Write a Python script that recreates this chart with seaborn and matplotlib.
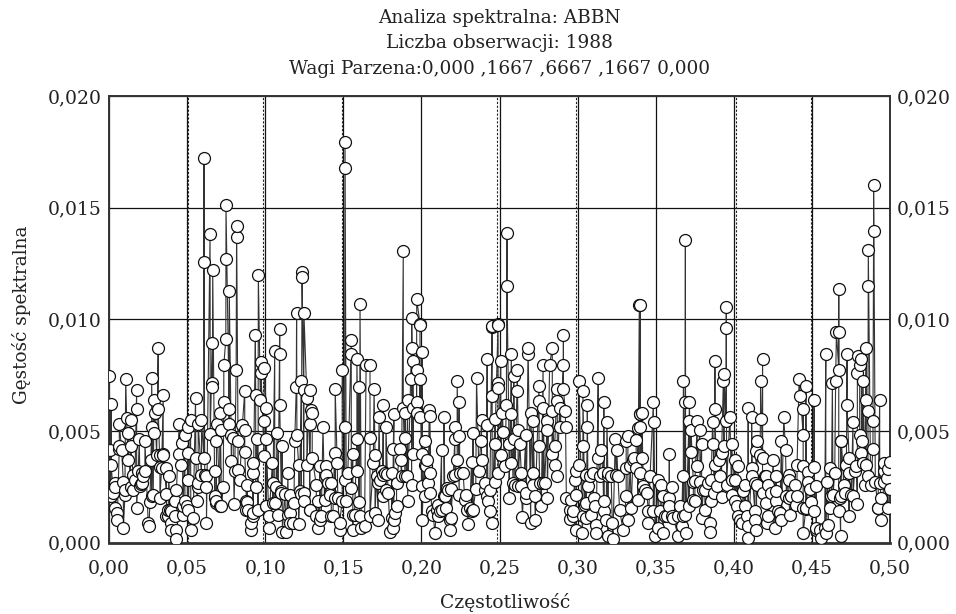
import numpy as np
import pandas as pd
import matplotlib
matplotlib.use('Agg')
import matplotlib.pyplot as plt
import seaborn as sns

# values, density in units of 0.001
freq_a = [
    .0002, .0013, .0006, .0013, .0011, .0038, .0038, .0049, .0053, .0066,
    .0066, .0092, .0092, .0102, .0107, .0113, .0121, .0121, .0138, .0138,
    .0138, .0155, .0177, .0177, .0177, .0194, .0202, .0209, .0230, .0230,
    .0251, .0256, .0273, .0273, .0268, .0273, .0262, .0288, .0290, .0294,
    .0315, .0315, .0326, .0326, .0347, .0347, .0368, .0368, .0368, .0383,
    .0390, .0396, .0400, .0428, .0428, .0422, .0432, .0449, .0449, .0464,
    .0469, .0486, .0475, .0486, .0507, .0507, .0507, .0507, .0522, .0524,
    .0539, .0554, .0556, .0564, .0571, .0571, .0592, .0607, .0613, .0624,
    .0624, .0648, .0662, .0662, .0662, .0677, .0677, .0688, .0688, .0692,
    .0709, .0714, .0720, .0731, .0735, .0735, .0748, .0769, .0769, .0784,
    .0784, .0794, .0805, .0814, .0826, .0826, .0837, .0801, .0854, .0869,
    .0869, .0869, .0884, .0884, .0880, .0907, .0907, .0922, .0922, .0922,
    .0937, .0939, .0948, .0939, .0954, .0969, .0973, .0973, .0993, .0993,
    .0993, .1007, .1007, .1007, .1025, .1025, .1046, .1050, .1061, .1061,
    .1076, .1071, .1093, .1093, .1093, .1082, .1103, .1108, .1110, .1135,
    .1125, .1146, .1146, .1157, .1157, .1184, .1189, .1203, .1199, .1214,
    .1214, .1231, .1231, .1246, .1246, .1267, .1267, .1284, .1284, .1295,
    .1289, .1301, .1301, .1327, .1338, .1338, .1348, .1348, .1370, .1391,
    .1391, .1402, .1423, .1423, .1412, .1444, .1448, .1448, .1461, .1476,
    .1476, .1493, .1493, .1508, .1508, .1529, .1551, .1551, .1551, .1561,
    .1561, .1561, .1587, .1587, .1587, .1600, .1600, .1615, .1636, .1646,
    .0608, .0608, .0647, .0664, .0749, .0749, .0770, .0817, .0817, .0956,
    .1201, .1248, .1236, .1236, .1511, .1511, .1607,
    .0038, .0028, .0066, .0081, .0102, .0155, .0166, .0187, .0209, .0219,
    .0198, .0283, .0305, .0326, .0347, .0337, .0379, .0379, .0400, .0422,
    .0475, .0501, .0571, .0592, .0620, .0677, .0688, .0709, .0880, .0890,
    .0922, .1007, .1050, .1103, .1157, .1178, .1220, .1246, .1284, .1327,
    .1359, .1380, .1412, .1433, .1465, .1519, .1572, .1604,
]
dens_a = [
    7.45, 6.2, 4.15, 3.5, 2.1, 2.5, 1.55, 1.33, 1.03, 4.2,
    5.3, 2.7, .65, 2.15, 7.35, 5.6, 4.9, 3.7, 5.5, 4.35,
    2.5, 3.05, 6.85, 6.0, 1.55, 4.65, 2.65, 3.1, 4.55, 3.2,
    .88, .73, 7.37, 5.2, 3.7, 2.07, 1.8, 6.4, 4.9, 5.8,
    8.7, 6.0, 3.4, 2.0, 6.6, 3.95, 2.2, 3.35, 1.18, 3.0,
    1.48, .88, .58, .55, .16, 1.85, 2.37, 5.3, 3.95, 3.5,
    4.46, 4.84, 1.25, 1.85, 5.2, 4.0, 2.8, 1.45, 5.5, .55,
    1.1, 6.5, 3.8, 1.85, 2.5, 5.3, 5.5, 3.8, 3.05, .9,
    2.5, 4.85, 8.95, 7.15, 6.95, 3.2, 2.07, 4.55, 1.85, 5.3,
    5.8, 5.03, 1.63, 2.5, 6.3, 7.97, 9.1, 6.0, 5.3, 3.65,
    4.84, 4.7, 3.2, 7.75, 4.55, 3.27, 2.8, 1.75, 5.28, 6.78,
    5.03, 4.05, 2.6, 1.8, 1.45, .55, .88, 3.57, 3.1, 1.18,
    9.3, 6.63, 4.65, 2.5, 1.48, 6.4, 8.1, 7.6, 7.82, 5.43,
    3.87, 6.03, 4.64, 1.63, 1.18, .65, 3.57, 2.67, 8.57, 1.78,
    4.9, 2.5, 9.58, 8.45, 6.18, 1.25, 2.3, 4.34, .5, .46,
    2.2, 3.1, 1.25, .88, 2.15, 1.78, 4.54, 4.8, 6.97, 3.46,
    .85, 7.25, 2.2, 6.85, 1.85, 6.46, 3.5, 6.85, 1.48, 5.95,
    5.3, 5.8, 3.8, 2.6, 1.85, .65, 3.42, 1.03, 5.2, 3.42,
    3.05, 2.67, 2.67, 1.18, 2.15, 4.0, 6.88, 2.0, 3.57, .88,
    .55, 7.72, 1.85, 5.2, 2.82, 3.12, 9.09, 8.45, 2.45, 3.97,
    1.25, .55, 8.22, 4.66, 3.2, 1.8, 6.97, .65, .76, 7.94,
    17.24, 12.59, 13.84, 12.2, 15.1, 12.7, 11.26, 14.17, 13.68, 12.0,
    10.3, 10.27, 12.1, 11.9, 17.95, 16.76, 10.7,
    2.67, 2.22, 4.31, 4.16, 2.37, 2.37, 2.82, 3.19, 2.67, 2.97,
    2.52, 2.15, 3.94, 3.94, 3.94, 3.34, 1.18, 1.48, 1.4, 1.18,
    1.63, 1.63, 2.67, 3.04, 2.97, 2.0, 1.78, 1.63, 1.85, 1.48,
    1.33, 1.63, 1.78, 2.22, 1.33, .88, 2.3, 2.22, 1.48, 1.18,
    1.18, 1.93, 2.22, 1.18, 2.0, 1.85, 1.25, 1.18,
]

freq_b = [
    .1671, .1671, .1697, .1703, .1671, .1692, .1703, .1729, .1724, .1735,
    .1746, .1756, .1756, .1773, .1773, .1767, .1799, .1809, .1809, .1816,
    .1824, .1820, .1841, .1841, .1863, .1867, .1884, .1895, .1895, .1897,
    .1912, .1912, .1937, .1937, .1948, .1948, .1931, .1944, .1969, .1969,
    .1969, .1991, .1991, .1991, .2005, .2001, .2005, .2005, .2022, .2022,
    .2022, .2037, .2050, .2054, .2054, .2054, .2065, .2086, .2076, .2108,
    .2108, .2129, .2129, .2144, .2144, .2157, .2161, .2182, .2189, .2189,
    .2214, .2214, .2229, .2229, .2242, .2242, .2242, .2214, .2267, .2284,
    .2289, .2299, .2331, .2327, .2321, .2353, .2348, .2368, .2380, .2385,
    .2385, .2406, .2421, .2421, .2427, .2438, .2438, .2453, .2453, .2453,
    .2470, .2470, .2470, .2491, .2491, .2491, .2491, .2508, .2508, .2519,
    .2523, .2534, .2544, .2561, .2561, .2576, .2576, .2576, .2591, .2591,
    .2598, .2615, .2615, .2619, .2640, .2630, .2647, .2640, .2668, .2668,
    .2683, .2683, .2700, .2700, .2715, .2715, .2730, .2730, .2753, .2753,
    .2753, .2768, .2779, .2779, .2779, .2806, .2806, .2806, .2821, .2838,
    .2838, .2838, .2853, .2853, .2868, .2870, .2870, .2889, .2885, .2909,
    .2909, .2909, .2921, .2923, .2928, .2949, .2960, .2970, .2981, .2992,
    .2992, .2992, .3009, .3009, .3030, .3034, .3034, .3045, .3056, .3062,
    .3062, .3066, .3056, .3087, .3098, .3102, .3119, .3119, .3132, .3132,
    .3151, .3168, .3168, .3168, .3188, .3183, .3194, .3194, .3226, .3222,
    .3241, .3251, .3258, .3269, .3290, .3322, .3311, .3322, .3311, .3337,
    .3343, .3364, .3375, .3375, .3386, .3386, .3401,
    .1884, .1970, .1938, .1991, .2491, .2453, .2548, .2548, .3395,
    .1714, .1724, .1752, .1782, .1788, .1831, .1824, .1873, .1905, .2029,
    .2044, .2097, .2118, .2150, .2172, .2182, .2204, .2246, .2278, .2310,
    .2331, .2406, .2417, .2587, .2619, .2672, .2715, .2757, .2789, .2949,
    .2970, .3034, .3056, .3077, .3109, .3141, .3162, .3194, .3215, .3247,
    .3311, .3354,
]
dens_b = [
    7.97, 4.69, 6.88, 3.94, 1.18, 3.57, 1.33, 5.63, 1.03, 2.82,
    3.2, 6.18, 2.07, 5.2, 2.37, 3.12, .5, 3.12, 1.1, .65,
    5.78, 4.2, 2.67, 1.63, 4.2, 3.72, 6.03, 5.8, 3.0, 4.69,
    6.4, 1.85, 2.6, 8.72, 8.12, 3.97, 7.34, 6.03, 7.75, 6.28,
    5.8, 9.76, 7.34, 5.63, 8.54, 3.97, 2.52, 1.03, 4.54, 3.5,
    2.07, 3.72, 5.95, 5.66, 3.1, 2.22, 1.4, .43, 1.25, 1.7,
    1.18, 4.16, 1.48, 5.63, 2.07, 1.55, 2.45, .58, 1.1, 2.4,
    5.2, 4.66, 7.25, 3.69, 6.28, 4.79, 2.15, 3.05, 3.1, 2.15,
    1.48, .85, 4.9, 1.4, 3.6, 7.36, 2.4, 3.2, 4.54, 5.5,
    3.72, 2.67, 8.22, 5.28, 1.85, 2.37, 1.4, 9.66, 6.58, .88,
    5.54, 4.43, 2.7, 9.76, 7.15, 6.93, 3.1, 8.12, 3.94, 5.8,
    4.94, 3.42, 6.18, 4.43, 2.0, 8.46, 5.78, 3.57, 7.48, 4.64,
    2.6, 7.75, 6.78, 5.06, 2.52, 4.43, 1.15, 3.1, 4.84, 2.0,
    8.72, 8.46, 5.8, .88, 3.1, 5.43, 1.03, 2.07, 7.0, 4.31,
    6.33, 1.66, 7.97, 6.03, 2.67, 5.06, 5.43, 2.0, 7.97, 3.97,
    8.72, 5.91, 3.46, 4.34, 6.88, 6.33, 3.0, 5.2, 6.03, 9.31,
    7.97, 6.88, 5.91, 5.2, 2.0, 1.06, 1.93, 1.4, 2.82, 3.2,
    .58, 2.15, 7.25, 3.46, .43, 6.78, 4.34, 1.7, 3.05, 6.18,
    5.2, 2.52, 1.1, 1.25, 3.12, 2.0, .8, .43, 7.36, 3.8,
    4.16, 6.28, 1.85, 1.4, 5.4, 1.03, .28, 3.12, .16, .88,
    4.66, 4.13, 2.97, 1.48, .58, 1.03, 2.07, 4.79, 4.54, 3.42,
    1.55, 3.79, 4.58, 3.34, 1.93, 5.13, 5.76,
    13.08, 10.9, 10.06, 9.8, 9.8, 9.7, 13.86, 11.51, 10.66,
    2.97, 2.67, 3.04, 3.09, 2.22, 1.33, 1.03, 2.97, 2.97, 3.42,
    2.67, 1.48, 1.4, 2.07, 2.37, 1.03, 2.97, 3.12, 1.93, 1.55,
    1.48, 2.37, 2.07, 2.67, 2.52, 2.22, 2.6, 2.67, 2.67, 1.48,
    1.18, 1.18, 1.78, 2.97, 1.63, 2.97, 3.12, 2.97, 2.97, 3.04,
    3.34, 3.72,
]

freq_c = [
    .3400, .3411, .3400, .3411, .3400, .3443, .3464, .3453, .3453, .3485,
    .3489, .3496, .3485, .3517, .3517, .3532, .3549, .3549, .3560, .3587,
    .3587, .3587, .3607, .3602, .3645, .3656, .3666, .3673, .3677, .3688,
    .3692, .3688, .3715, .3713, .3713, .3726, .3726, .3741, .3751, .3766,
    .3766, .3783, .3783, .3794, .3794, .3815, .3815, .3847, .3847, .3852,
    .3852, .3869, .3864, .3879, .3879, .3879, .3873, .3905, .3911, .3922,
    .3922, .3937, .3937, .3933, .3950, .3975, .3986, .3986, .4007, .4007,
    .4007, .4028, .4028, .4050, .4060, .4071, .4071, .4092, .4092, .4092,
    .4114, .4114, .4118, .4135, .4135, .4145, .4145, .4146, .4150, .4167,
    .4171, .4171, .4184, .4184, .4184, .4199, .4209, .4214, .4220, .4220,
    .4252, .4263, .4269, .4269, .4284, .4305, .4305, .4320, .4331, .4352,
    .4352, .4352, .4359, .4390, .4405, .4405, .4418, .4427, .4444, .4444,
    .4444, .4461, .4461, .4444, .4476, .4476, .4491, .4497, .4514, .4514,
    .4514, .4529, .4529, .4529, .4561, .4589, .4589, .4599, .4604, .4614,
    .4614, .4631, .4625, .4646, .4657, .4652, .4672, .4672, .4684, .4684,
    .4684, .4689, .4704, .4721, .4725, .4725, .4738, .4738, .4738, .4752,
    .4763, .4774, .4791, .4791, .4806, .4795, .4827, .4823, .4806, .4817,
    .4842, .4817, .4844, .4848, .4848, .4859, .4859, .4876, .4891, .4891,
    .4906, .4923, .4934, .4944, .4944, .4923, .4961, .4961, .4961, .4981,
    .4987, .4998, .5000,
    .3400, .3690, .3952, .3952, .4672, .4672, .4861, .4861, .4895, .4895,
    .3421, .3432, .3528, .3570, .3613, .3645, .3677, .3741, .3751, .3805,
    .3837, .3890, .3954, .3986, .4018, .4039, .4082, .4135, .4209, .4241,
    .4273, .4295, .4337, .4369, .4401, .4444, .4465, .4550, .4582, .4635,
    .4678, .4710, .4763, .4785, .4827, .4934, .4987,
]
dens_c = [
    5.78, 5.81, 5.18, 3.8, 3.1, 2.22, 3.0, .88, 1.4, 6.28,
    5.42, .28, 1.4, 2.82, .65, 2.6, 2.07, .43, 1.18, 3.96,
    2.0, 1.63, 2.5, 1.18, .28, 1.63, .73, 2.97, 7.25, 6.28,
    .43, 1.25, 6.28, 5.43, 1.63, 5.06, 4.05, 2.7, 1.85, 5.43,
    3.42, 5.06, 2.7, 4.43, 1.1, 1.48, 2.37, .88, .46, 1.85,
    2.82, 4.43, 5.42, 8.12, 6.0, 3.46, 2.22, 3.72, 2.97, 4.0,
    2.03, 7.57, 4.34, 7.25, 5.43, 5.63, 4.43, 2.15, 3.72, 2.82,
    1.85, 3.42, 1.18, .88, 2.3, 2.6, 1.63, .21, .73, 6.03,
    5.63, 3.34, 3.0, 1.4, 1.03, .58, 4.09, 2.6, 4.54, 3.94,
    7.25, 5.54, 2.22, 8.22, 3.79, 3.0, 1.78, .88, 2.6, 1.18,
    3.69, .65, 1.85, 2.97, 1.4, 4.54, 1.03, 5.63, 4.16, 3.05,
    2.0, 2.82, 1.25, 2.6, 3.46, 2.07, 7.34, 6.58, 6.0, 3.42,
    .43, 1.5, 7.0, 4.82, 3.15, 2.7, 2.4, 1.82, 1.4, 6.4,
    3.39, .58, .65, 2.52, .21, 8.45, .43, 2.7, .78, 3.34,
    1.55, 7.15, 2.07, 3.1, 9.42, 7.25, 7.75, 1.43, .28, 2.07,
    4.54, 4.54, 2.6, 3.5, 8.45, 6.18, 3.79, 1.18, 3.12, 2.15,
    5.4, 3.2, 1.75, 7.6, 7.94, 8.34, 7.25, 4.54, 4.81, 4.0,
    2.6, 8.22, 6.4, 3.49, 8.72, 3.0, 5.91, 2.6, 5.43, 4.2,
    2.7, 1.55, 6.4, 1.03, 2.0, 1.55, 2.7, 3.57, 3.2, 2.9,
    3.3, 2.4, 3.6,
    10.66, 13.57, 10.54, 9.6, 11.36, 9.45, 11.51, 13.1, 16.0, 13.95,
    2.52, 2.37, 1.4, 1.18, 1.1, 1.18, 1.18, 1.93, 2.75, 2.37,
    2.67, 2.52, 2.6, 2.82, 1.63, 1.03, 1.18, 2.67, 2.97, 2.22,
    2.3, 1.33, 2.07, 2.07, 1.7, 1.55, 1.55, .58, .65, 2.15,
    2.0, 2.22, 2.07, 3.42, 3.57, 2.67, 1.55,
]

x_ticks = [0.0, 0.05, 0.10, 0.15, 0.20, 0.25, 0.30, 0.35, 0.40, 0.45, 0.50]
x_labels = ['0,00', '0,05', '0,10', '0,15', '0,20', '0,25', '0,30', '0,35', '0,40', '0,45', '0,50']
y_ticks = [0.0, 0.005, 0.010, 0.015, 0.020]
y_labels = ['0,000', '0,005', '0,010', '0,015', '0,020']
dashed_at = [.0507, .0986, .1490, .2485, .2992, .4011, .4495]

df = pd.DataFrame({
    'freq': freq_a + freq_b + freq_c,
    'dens': np.array(dens_a + dens_b + dens_c) / 1000,
}).sort_values('freq')

sns.set_style('white')
plt.rcParams['font.family'] = ['DejaVu Serif']
INK = '#222222'

fig = plt.figure(figsize=(9.56, 6.14), dpi=100)
ax = fig.add_axes([109 / 956, 71.3 / 614, 781 / 956, 446.7 / 614])

ax.grid(True, color='#111111', lw=0.9)
ax.set_axisbelow(True)
for f in dashed_at:
    ax.axvline(f, color='#222222', lw=0.8, ls=(0, (2, 1.5)), zorder=1)

sns.lineplot(data=df, x='freq', y='dens', estimator=None, sort=False, ax=ax,
             color='#333333', lw=0.8, marker='o', ms=8.6, mfc='white',
             mec='#111111', mew=0.9, zorder=3)

ax.set_xlim(0, 0.5)
ax.set_ylim(0, 0.02)
ax.set_xticks(x_ticks)
ax.set_xticklabels(x_labels, fontsize=13.5, color=INK)
ax.set_yticks(y_ticks)
ax.set_yticklabels(y_labels, fontsize=13.5, color=INK)
ax.tick_params(axis='both', length=0)
ax.tick_params(axis='y', labelright=True, pad=5)
ax.tick_params(axis='x', pad=12)
for s in ax.spines.values():
    s.set_visible(True)
    s.set_color('#333333')
    s.set_linewidth(1.4)
ax.spines['bottom'].set_linewidth(2)
ax.set_xlabel('Częstotliwość', fontsize=13.5, color=INK, labelpad=11, x=0.507)
ax.set_ylabel('Gęstość spektralna', fontsize=13.3, color=INK, labelpad=12, y=0.51)
ax.set_title('Analiza spektralna: ABBN\nLiczba obserwacji: 1988\n'
             'Wagi Parzena:0,000 ,1667 ,6667 ,1667 0,000',
             fontsize=13.3, color=INK, linespacing=1.57, pad=15.5)

fig.savefig('out.png', dpi=100)
